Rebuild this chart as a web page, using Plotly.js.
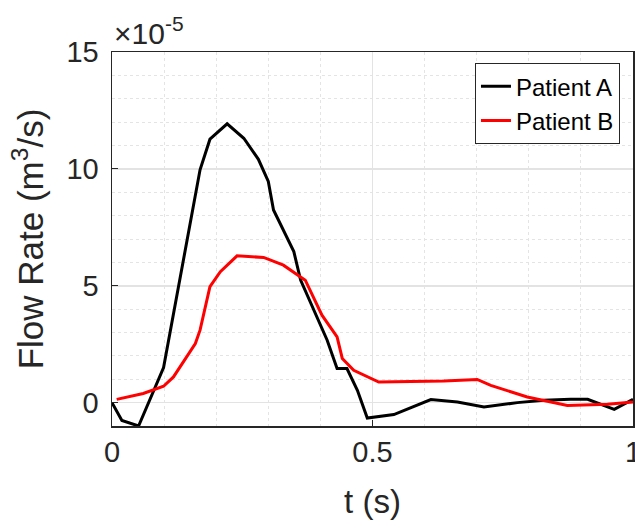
<!DOCTYPE html>
<html>
<head>
<meta charset="utf-8">
<script src="https://cdn.plot.ly/plotly-3.0.1.min.js"></script>
<style>html,body{margin:0;padding:0;background:#fff;}#chart{width:635px;height:529px;}</style>
</head>
<body>
<div id="chart"></div>
<script>
// Time (s) and flow rate (×1e-5 m^3/s)
const tA = [0, 0.019, 0.051, 0.099, 0.169, 0.188, 0.221, 0.253, 0.281, 0.300, 0.310, 0.349, 0.362, 0.413, 0.432, 0.451, 0.471, 0.490, 0.541, 0.612, 0.663, 0.714, 0.778, 0.829, 0.880, 0.913, 0.964, 1.0];
const qA = [0, -0.76, -1.0, 1.5, 9.96, 11.27, 11.93, 11.31, 10.41, 9.46, 8.24, 6.46, 5.24, 2.67, 1.46, 1.46, 0.53, -0.66, -0.51, 0.13, 0.03, -0.19, 0.0, 0.1, 0.14, 0.14, -0.29, 0.14];
const tB = [0.009, 0.06, 0.099, 0.118, 0.160, 0.169, 0.188, 0.208, 0.240, 0.291, 0.329, 0.371, 0.403, 0.432, 0.442, 0.464, 0.512, 0.637, 0.701, 0.727, 0.797, 0.874, 0.951, 1.0];
const qB = [0.14, 0.39, 0.7, 1.1, 2.53, 3.1, 4.96, 5.6, 6.28, 6.21, 5.88, 5.24, 3.74, 2.81, 1.89, 1.38, 0.88, 0.93, 0.99, 0.74, 0.24, -0.12, -0.07, 0.03];
const names = ['Patient A', 'Patient B'];
const xTicks = [0, 0.5, 1];
const xTickText = ['0', '0.5', '1'];
const yTicks = [0, 5, 10, 15];

const font = 'Liberation Sans, Arial, sans-serif';
const axisCol = '#262626';

const traces = [
  {x: tA, y: qA, name: names[0], mode: 'lines', line: {color: '#000000', width: 3}},
  {x: tB, y: qB, name: names[1], mode: 'lines', line: {color: '#ff0000', width: 3}}
];

const layout = {
  width: 635, height: 529,
  margin: {l: 112, r: 2, t: 52, b: 103},
  paper_bgcolor: '#ffffff', plot_bgcolor: '#ffffff',
  font: {family: font, color: axisCol},
  showlegend: true,
  legend: {
    x: 0.975, y: 0.97, xanchor: 'right', yanchor: 'top',
    bgcolor: '#ffffff', bordercolor: '#262626', borderwidth: 1,
    font: {family: font, size: 24, color: '#000000'},
    tracegroupgap: 0
  },
  xaxis: {
    range: [0, 1], tickvals: xTicks, ticktext: xTickText,
    ticks: 'inside', ticklen: 6, tickcolor: axisCol,
    showline: true, linecolor: axisCol, linewidth: 1.5, mirror: true,
    showgrid: true, gridcolor: '#e3e3e3', gridwidth: 1.5,
    zeroline: false, ticklabeloverflow: 'allow',
    minor: {dtick: 0.1, showgrid: true, gridcolor: '#e4e4e4', griddash: 'dot', gridwidth: 1, ticks: ''},
    tickfont: {size: 29, color: axisCol, family: font},
    title: {text: 't (s)', font: {size: 33, color: axisCol, family: font}, standoff: 22}
  },
  yaxis: {
    range: [-1, 15], tickvals: yTicks,
    ticks: 'inside', ticklen: 6, tickcolor: axisCol,
    showline: true, linecolor: axisCol, linewidth: 1.5, mirror: true,
    showgrid: true, gridcolor: '#e3e3e3', gridwidth: 1.5,
    zeroline: false,
    minor: {dtick: 1, showgrid: true, gridcolor: '#e4e4e4', griddash: 'dot', gridwidth: 1, ticks: ''},
    tickfont: {size: 29, color: axisCol, family: font},
    ticklabelstandoff: 6,
    title: {text: 'Flow Rate (m<sup>3</sup>/s)', font: {size: 35, color: axisCol, family: font}, standoff: 12}
  },
  annotations: [{
    xref: 'paper', yref: 'paper', x: 0, y: 1, xanchor: 'left', yanchor: 'bottom',
    xshift: 0, yshift: 0,
    text: '×10<sup>-5</sup>', showarrow: false,
    font: {size: 30, color: axisCol, family: font}
  }]
};

Plotly.newPlot('chart', traces, layout, {displayModeBar: false, staticPlot: true});
</script>
</body>
</html>
